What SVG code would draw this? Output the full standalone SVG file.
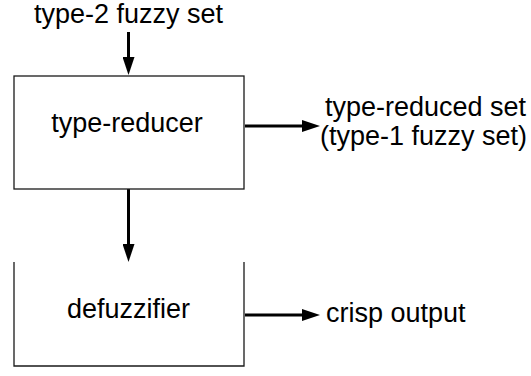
<svg xmlns="http://www.w3.org/2000/svg" width="531" height="376" viewBox="0 0 531 376">
  <style>
    .box { fill: none; stroke: #1a1a1a; stroke-width: 1.3; }
    .lbl { font-family: "Liberation Sans", Arial, sans-serif; font-size: 27px; fill: #000; }
    .mid { text-anchor: middle; }
    .wire { fill: none; stroke: #000; stroke-width: 3; marker-end: url(#head); }
  </style>
  <defs>
    <marker id="head" markerUnits="userSpaceOnUse" markerWidth="18" markerHeight="12" refX="8" refY="6" orient="auto">
      <path d="M0,0 L18,6 L0,12 z" fill="#000"/>
    </marker>
  </defs>
  <rect width="531" height="376" fill="#fff"/>

  <g id="connectors">
    <path class="wire" d="M128.5,32 V65"/>
    <path class="wire" d="M128.5,189 V252"/>
    <path class="wire" d="M245,126 H310"/>
    <path class="wire" d="M245,315 H310"/>
  </g>

  <g id="input">
    <text class="lbl mid" x="128.5" y="23">type-2 fuzzy set</text>
  </g>

  <g id="type-reducer">
    <rect class="box" x="14" y="76" width="230" height="113"/>
    <text class="lbl mid" x="127" y="132">type-reducer</text>
  </g>

  <g id="type-reduced-set">
    <text class="lbl" x="325" y="116">type-reduced set</text>
    <text class="lbl" x="320" y="145">(type-1 fuzzy set)</text>
  </g>

  <g id="defuzzifier">
    <path class="box" d="M14,262 V366 H244 V262"/>
    <text class="lbl mid" x="128.5" y="318">defuzzifier</text>
  </g>

  <g id="crisp-output">
    <text class="lbl" x="326" y="322">crisp output</text>
  </g>
</svg>
